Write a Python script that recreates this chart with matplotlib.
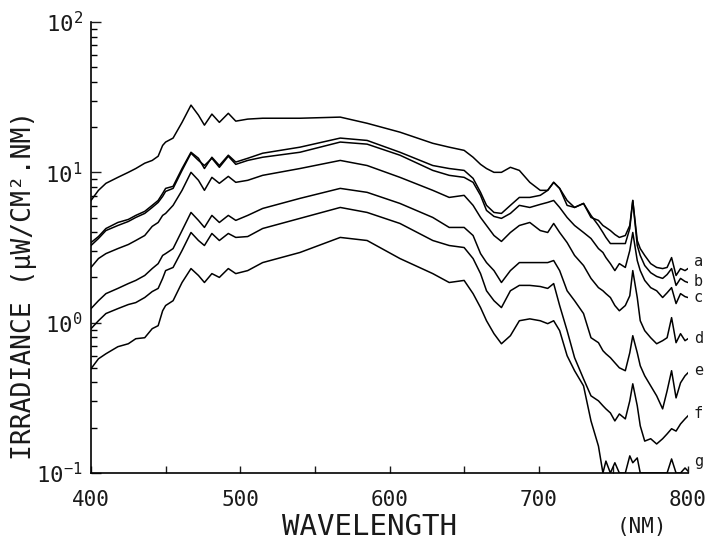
import matplotlib
matplotlib.use("Agg")
import matplotlib.pyplot as plt
from matplotlib.ticker import FixedLocator, FixedFormatter, NullFormatter, LogLocator

# Wavelength grid (nm)
wavelength = [400, 405, 410, 418, 425, 430, 436, 441, 445, 448,
              450, 455, 461, 467, 472, 476, 481, 486, 492, 497,
              505, 515, 540, 567, 585, 607, 629, 640, 650, 656,
              661, 665, 670, 675, 681, 687, 694, 701, 706, 710,
              714, 719, 724, 730, 735, 740, 743, 745, 748, 751,
              754, 758, 761, 763, 766, 768, 771, 775, 779, 783,
              786, 789, 792, 795, 798, 800]

# Irradiance (uW/cm^2.nm) for the seven depths a..g
irr_a = [6.50, 7.59, 8.45, 9.26, 10.0, 10.6, 11.5, 12.0, 12.8, 15.1,
         15.9, 16.9, 21.5, 28.0, 24.0, 20.6, 24.4, 21.5, 24.7, 21.9,
         22.6, 22.9, 22.9, 23.3, 21.2, 18.5, 15.6, 14.7, 14.0, 12.6,
         11.3, 10.6, 10.0, 10.0, 10.8, 10.3, 8.58, 7.59, 7.59, 8.58,
         7.82, 6.50, 5.84, 6.21, 5.01, 4.79, 4.43, 4.30, 4.10, 3.86,
         3.69, 3.80, 4.43, 6.50, 3.52, 3.11, 2.80, 2.47, 2.33, 2.29,
         2.33, 2.71, 2.06, 2.29, 2.22, 2.29]
irr_b = [3.41, 3.74, 4.23, 4.64, 4.86, 5.17, 5.50, 6.03, 6.50, 7.24,
         7.82, 8.07, 10.6, 13.6, 12.4, 10.6, 12.6, 11.1, 13.0, 11.7,
         12.4, 13.4, 14.7, 16.9, 16.3, 13.6, 11.1, 10.6, 10.3, 9.12,
         7.36, 6.03, 5.41, 5.33, 6.03, 6.81, 6.81, 7.03, 7.59, 8.58,
         7.82, 6.03, 5.84, 6.21, 5.17, 4.43, 3.98, 3.69, 3.36, 3.36,
         3.36, 3.36, 4.23, 6.50, 3.26, 2.80, 2.40, 2.15, 2.03, 1.97,
         2.09, 2.29, 1.77, 1.97, 1.88, 1.85]
irr_c = [3.26, 3.63, 4.10, 4.43, 4.71, 5.01, 5.33, 5.84, 6.31, 6.92,
         7.47, 7.82, 10.3, 13.4, 12.0, 11.1, 12.4, 10.8, 12.8, 11.3,
         12.0, 12.6, 13.6, 15.9, 15.4, 13.0, 10.3, 9.55, 9.26, 8.58,
         7.03, 5.58, 5.09, 4.94, 5.33, 6.03, 5.84, 6.12, 6.31, 6.50,
         5.84, 5.01, 4.43, 3.98, 3.63, 3.11, 2.93, 2.71, 2.47, 2.22,
         2.47, 2.33, 3.02, 3.98, 2.59, 2.22, 1.91, 1.71, 1.63, 1.47,
         1.58, 1.71, 1.34, 1.56, 1.49, 1.47]
irr_d = [2.33, 2.67, 2.88, 3.11, 3.31, 3.52, 3.80, 4.37, 4.64, 5.17,
         5.33, 6.03, 7.59, 10.0, 8.85, 7.59, 9.26, 8.45, 9.40, 8.58,
         8.85, 9.55, 10.6, 12.0, 11.1, 9.26, 7.59, 6.81, 7.03, 6.03,
         5.01, 4.43, 3.80, 3.47, 3.98, 4.43, 4.64, 4.10, 3.98, 4.57,
         3.98, 3.41, 2.80, 2.40, 1.97, 1.71, 1.63, 1.56, 1.47, 1.30,
         1.20, 1.30, 1.51, 2.22, 1.47, 1.03, 0.885, 0.794, 0.724, 0.759,
         0.794, 1.08, 0.736, 0.845, 0.759, 0.782]
irr_e = [1.24, 1.40, 1.56, 1.69, 1.82, 1.91, 2.06, 2.29, 2.47, 2.80,
         2.88, 3.11, 4.10, 5.41, 4.79, 4.30, 5.17, 4.64, 5.17, 4.79,
         5.17, 5.75, 6.71, 7.82, 7.36, 6.21, 5.01, 4.30, 4.30, 3.80,
         2.88, 2.51, 2.22, 1.85, 2.22, 2.51, 2.51, 2.51, 2.51, 2.59,
         2.22, 1.63, 1.40, 1.15, 0.794, 0.736, 0.651, 0.621, 0.585, 0.541,
         0.501, 0.479, 0.631, 0.819, 0.631, 0.517, 0.443, 0.380, 0.326, 0.267,
         0.352, 0.479, 0.316, 0.398, 0.443, 0.464]
irr_f = [0.912, 1.03, 1.15, 1.24, 1.32, 1.36, 1.47, 1.61, 1.69, 1.97,
         2.22, 2.33, 3.02, 3.98, 3.52, 3.26, 3.92, 3.52, 3.92, 3.69,
         3.74, 4.23, 4.94, 5.84, 5.41, 4.57, 3.52, 3.26, 3.16, 2.67,
         2.12, 1.63, 1.40, 1.26, 1.63, 1.77, 1.77, 1.74, 1.69, 1.82,
         1.30, 0.885, 0.585, 0.423, 0.326, 0.302, 0.280, 0.267, 0.251, 0.222,
         0.247, 0.229, 0.302, 0.392, 0.280, 0.206, 0.163, 0.169, 0.156, 0.169,
         0.182, 0.197, 0.190, 0.212, 0.229, 0.240]
irr_g = [0.494, 0.575, 0.621, 0.692, 0.724, 0.782, 0.794, 0.912, 0.955, 1.20,
         1.30, 1.40, 1.85, 2.29, 2.06, 1.85, 2.12, 2.00, 2.29, 2.12,
         2.22, 2.51, 2.93, 3.69, 3.52, 2.67, 2.12, 1.85, 1.91, 1.56,
         1.26, 1.03, 0.845, 0.724, 0.819, 1.03, 1.06, 1.03, 0.985, 1.03,
         0.885, 0.603, 0.479, 0.380, 0.222, 0.151, 0.100, 0.120, 0.100, 0.117,
         0.100, 0.100, 0.130, 0.117, 0.126, 0.100, 0.100, 0.100, 0.100, 0.100,
         0.100, 0.124, 0.100, 0.100, 0.108, 0.103]

curve_labels = ["a", "b", "c", "d", "e", "f", "g"]
label_levels = [2.55, 1.88, 1.47, 0.79, 0.48, 0.247, 0.12]
series = [irr_a, irr_b, irr_c, irr_d, irr_e, irr_f, irr_g]

x_ticks = [400, 500, 600, 700, 800]
y_ticks = [0.1, 1, 10, 100]
y_tick_labels = [r"$\mathregular{10^{-1}}$", r"$\mathregular{10^{0}}$",
                 r"$\mathregular{10^{1}}$", r"$\mathregular{10^{2}}$"]

MONO = "DejaVu Sans Mono"
plt.rcParams["font.family"] = [MONO]
plt.rcParams["mathtext.fontset"] = "custom"
plt.rcParams["mathtext.rm"] = MONO
TXT = "#1a1a1a"

fig = plt.figure(figsize=(7.08, 5.45), dpi=100)
ax = fig.add_axes([91 / 708, 72 / 545, 597 / 708, 451 / 545])

for vals in series:
    ax.plot(wavelength, vals, color="black", lw=1.1)

ax.set_yscale("log")
ax.set_xlim(400, 800)
ax.set_ylim(0.1, 100)

for s in ("top", "right"):
    ax.spines[s].set_visible(False)
for s in ("left", "bottom"):
    ax.spines[s].set_linewidth(1.2)

ax.xaxis.set_major_locator(FixedLocator(x_ticks))
ax.xaxis.set_minor_locator(FixedLocator([450, 550, 650, 750]))
ax.yaxis.set_major_locator(FixedLocator(y_ticks))
ax.yaxis.set_major_formatter(FixedFormatter(y_tick_labels))
ax.yaxis.set_minor_locator(LogLocator(base=10, subs=range(2, 10)))
ax.yaxis.set_minor_formatter(NullFormatter())

ax.tick_params(axis="x", which="both", direction="in", length=5, width=1,
               labelsize=15, pad=12, colors=TXT)
ax.tick_params(axis="y", which="major", direction="in", length=7, width=1,
               labelsize=16, pad=6, colors=TXT)
ax.tick_params(axis="y", which="minor", direction="in", length=4, width=1)

for lab, lev in zip(curve_labels, label_levels):
    ax.text(804, lev, lab, fontsize=11, color=TXT, ha="left",
            va="center", clip_on=False)

fig.text(370 / 708, 1 - 527 / 545, "WAVELENGTH", fontsize=21, color=TXT,
         ha="center", va="center")
fig.text(642 / 708, 1 - 527 / 545, "(NM)", fontsize=15, color=TXT,
         ha="center", va="center")
fig.text(24 / 708, 1 - 285 / 545, "IRRADIANCE (\u03bcW/CM\u00b2.NM)", fontsize=19,
         color=TXT, ha="center", va="center", rotation=90)

fig.savefig("out.png", dpi=100)
